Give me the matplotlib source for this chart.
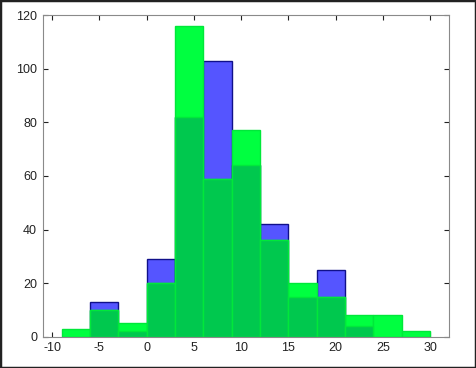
import matplotlib
matplotlib.use("Agg")
import matplotlib.pyplot as plt
import numpy as np
from matplotlib.patches import Rectangle

bin_edges = [-9, -6, -3, 0, 3, 6, 9, 12, 15, 18, 21, 24, 27, 30]
blue_counts = [0, 13, 2, 29, 82, 103, 64, 42, 15, 25, 4, 0, 0]
green_counts = [3, 10, 5, 20, 116, 59, 77, 36, 20, 15, 8, 8, 2]
x_ticks = [-10, -5, 0, 5, 10, 15, 20, 25, 30]
y_ticks = [0, 20, 40, 60, 80, 100, 120]

plt.rcParams['font.family'] = ['Liberation Sans', 'DejaVu Sans']

fig = plt.figure(figsize=(4.76, 3.68), dpi=100)
ax = fig.add_axes([42.7/476, 1 - 336.7/368, (449-42.7)/476, (336.7-15.3)/368])

left = np.array(bin_edges[:-1])
width = np.diff(bin_edges)
blue = np.array(blue_counts)
green = np.array(green_counts)
overlap = np.minimum(blue, green)

mb = blue > 0
ax.bar(left[mb], blue[mb], width=width[mb], align='edge', color='#5555FF',
       edgecolor='#10108A', linewidth=1.0, zorder=2)
ax.bar(left, green, width=width, align='edge', color='#00FF40',
       edgecolor='#00E83A', linewidth=1.0, zorder=3)
mo = overlap > 0
ax.bar(left[mo], overlap[mo], width=width[mo], align='edge', color='#00C84E',
       edgecolor='#00E83A', linewidth=1.0, zorder=4)

ax.set_xlim(-11, 32)
ax.set_ylim(0, 120)
ax.set_xticks(x_ticks)
ax.set_yticks(y_ticks)
ax.set_xticklabels([str(t) for t in x_ticks])
ax.set_yticklabels([str(t) for t in y_ticks])
ax.tick_params(direction='in', top=True, right=True, length=3.5, width=0.8,
               labelsize=9, colors='#222222', pad=4)
for s in ax.spines.values():
    s.set_color('#8A8A8A')
    s.set_linewidth(0.8)
    s.set_zorder(5)

fig.patches.append(Rectangle((0, 0), 1, 1, transform=fig.transFigure,
                             fill=False, edgecolor='#222222', linewidth=2.5))

fig.savefig('out.png', dpi=100)
